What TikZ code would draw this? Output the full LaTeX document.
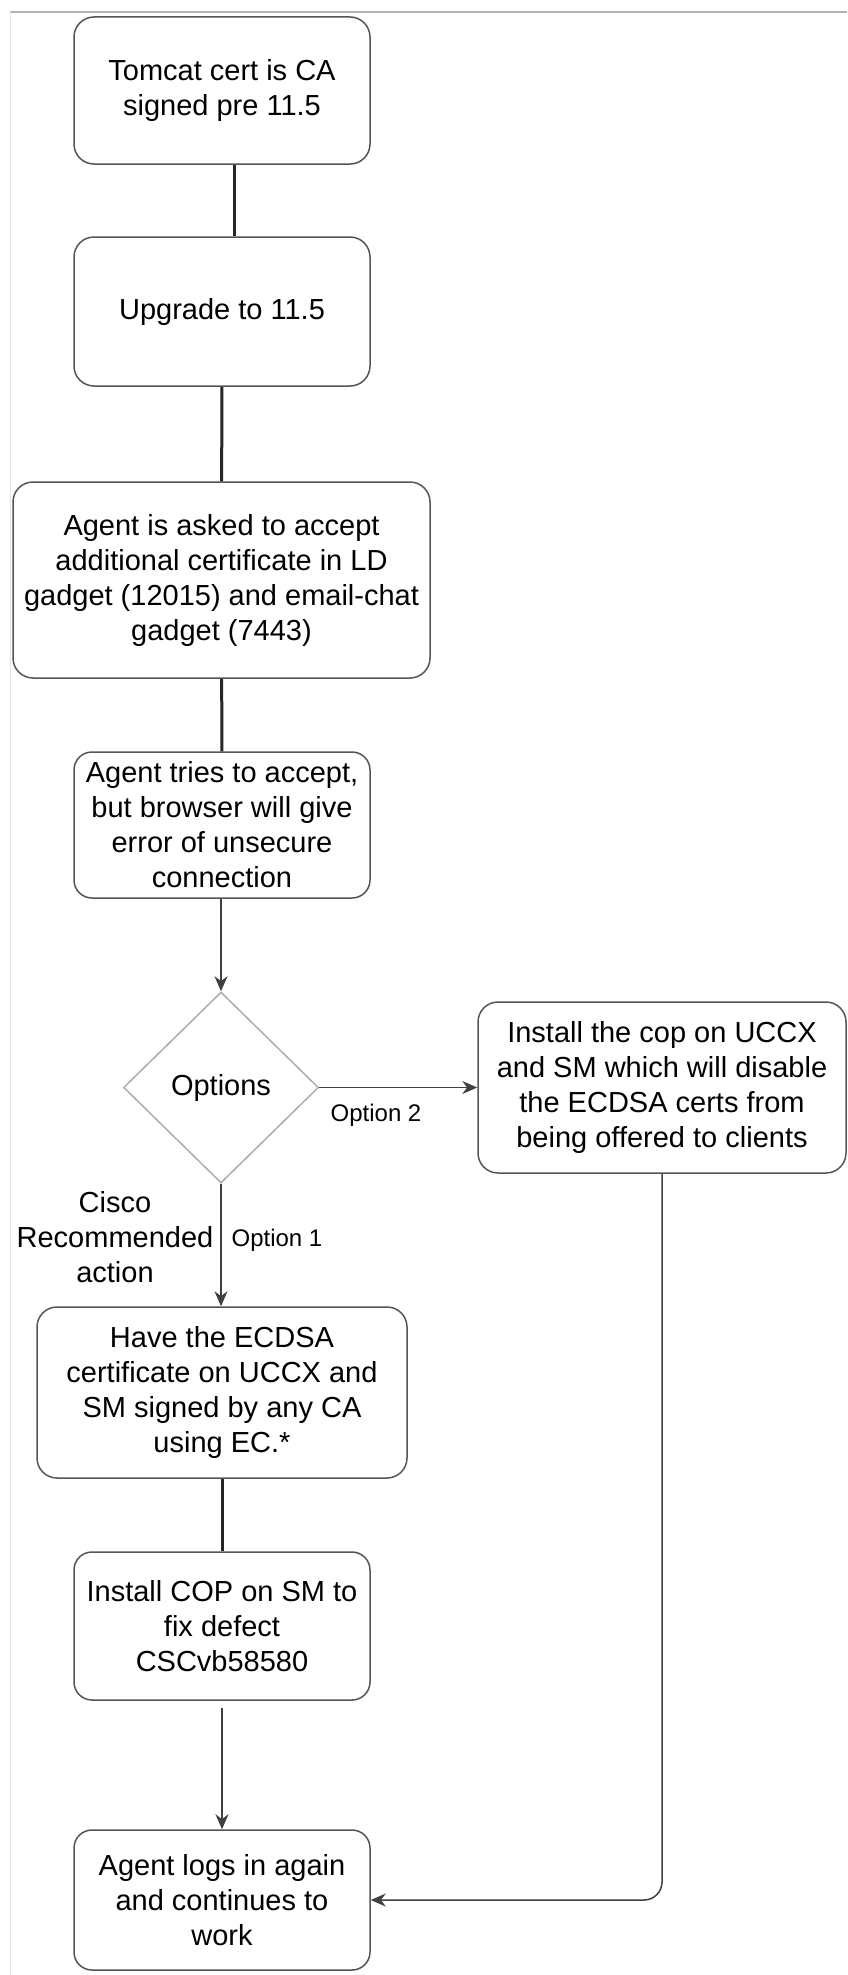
\documentclass[tikz,border=0pt]{standalone}
\usepackage{fontspec}
\setmainfont{Liberation Sans}
\usetikzlibrary{shapes.geometric,arrows.meta}
\definecolor{boxgray}{HTML}{555555}

\begin{document}
\begin{tikzpicture}[
    x=1pt, y=-1pt,
    font=\fontsize{29}{35}\selectfont,
    every node/.style={text centered, inner sep=0pt},
    box/.style={rectangle, draw=boxgray, line width=1.5pt, rounded corners=20pt, align=center, minimum width=296pt},
    choice/.style={diamond, draw=gray!65, line width=1.5pt, minimum width=195pt, minimum height=191pt},
    link/.style={line width=3pt, black!85},
    flow/.style={line width=1.5pt, black!75, -{Stealth[length=15pt,width=13pt]}},
    tag/.style={font=\fontsize{24}{29}\selectfont}
]
\useasboundingbox (0,0) rectangle (847,1975);

% page edges of the screenshot
\draw[gray!60, line width=1.5pt] (10,12) -- (847,12);
\draw[gray!20, line width=1pt] (10,12) -- (10,1975);

% main column
\node[box, minimum height=147pt] (tomcat) at (222,90.5) {Tomcat cert is CA\\signed pre 11.5};
\node[box, minimum height=149pt] (upgrade) at (222,311.5) {Upgrade to 11.5};
\node[box, minimum width=417pt, minimum height=196pt] (asked) at (221.5,580) {Agent is asked to accept\\additional certificate in LD\\gadget (12015) and email-chat\\gadget (7443)};
\node[box, minimum height=146pt, rounded corners=18pt] (tries) at (222,825) {Agent tries to accept,\\but browser will give\\error of unsecure\\connection};
\node[choice] (options) at (221,1087.5) {Options};
\node[box, minimum width=370pt, minimum height=171pt] (signed) at (222,1392.5) {Have the ECDSA\\certificate on UCCX and\\SM signed by any CA\\using EC.*};
\node[box, minimum height=148pt, rounded corners=18pt] (cop) at (222,1626) {Install COP on SM to\\fix defect\\CSCvb58580};
\node[box, minimum height=140pt, rounded corners=18pt] (logs) at (222,1900) {Agent logs in again\\and continues to\\work};

% side branch
\node[box, minimum width=368pt, minimum height=171pt] (disable) at (662,1087.5) {Install the cop on UCCX\\and SM which will disable\\the ECDSA certs from\\being offered to clients};

% labels
\node[tag] (opt2) at (376,1115) {Option 2};
\node[tag] (opt1) at (277,1240) {Option 1};
\node[align=center] (cisco) at (115,1237) {Cisco\\Recommended\\action};

% connectors
\draw[link] ([xshift=12pt]tomcat.south) -- ([xshift=12pt]upgrade.north);
\draw[link] (upgrade) -- (asked);
\draw[link] (asked) -- (tries);
\draw[flow] (tries.south -| options.north) -- (options.north);
\draw[flow] (options.east) -- (disable.west);
\draw[flow] (options.south) -- (signed.north -| options.south);
\draw[link] (signed) -- (cop);
\draw[flow, shorten <=7pt] (cop) -- (logs);
\draw[flow, rounded corners=18pt] (disable.south) |- (logs.east);

\end{tikzpicture}
\end{document}
